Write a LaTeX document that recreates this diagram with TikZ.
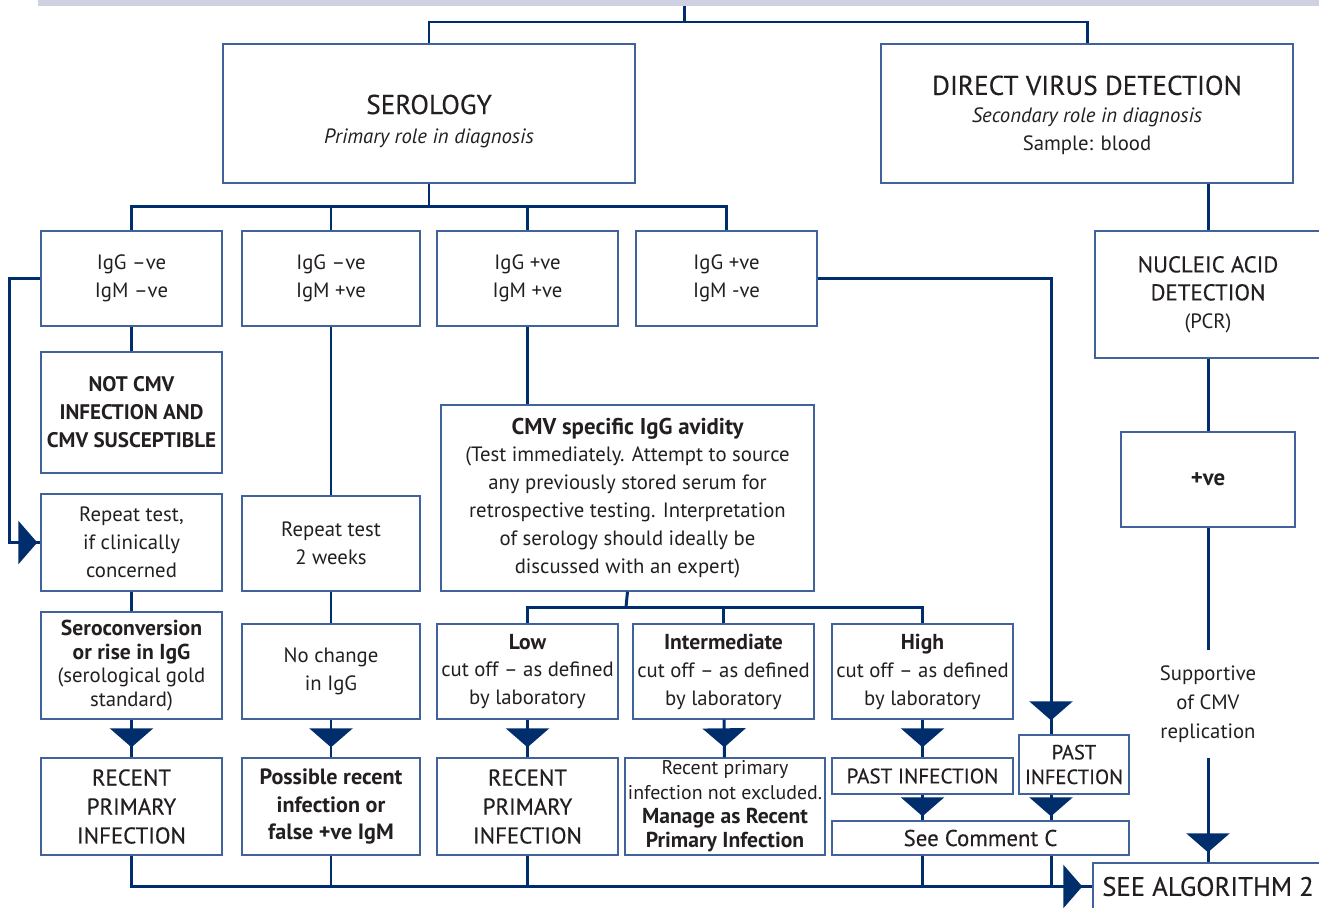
\documentclass[tikz,border=0pt]{standalone}
\usepackage{fontspec}
\setmainfont{PT Sans}
\newfontfamily\medfont[FakeBold=0.35]{PT Sans}
\usetikzlibrary{arrows.meta,decorations.markings,positioning}
\definecolor{navy}{RGB}{0,46,108}
\definecolor{boxblue}{RGB}{66,98,156}
\definecolor{ink}{RGB}{35,31,32}
\definecolor{barpale}{RGB}{205,209,226}
\newcommand\headfont{\medfont\fontsize{13}{16.5}\selectfont}
\newcommand\bigfont{\medfont\fontsize{15.5}{19}\selectfont}
\newcommand\boldhead{\bfseries\fontsize{12.3}{15}\selectfont}

\begin{document}
\begin{tikzpicture}[x=0.02cm,y=-0.02cm,
    box/.style={draw=boxblue,line width=0.8pt,text=ink,align=center,inner sep=0pt,
      font=\fontsize{11.8}{15.9}\selectfont},
    sz/.style 2 args={minimum width=#1*0.02cm,minimum height=#2*0.02cm},
    link/.style={navy,line width=1.7pt},
    tri/.style={postaction={decorate},decoration={markings,
      mark=at position -#1 with {\arrow{Triangle[width=0.86cm,length=0.38cm]}}}},
    tri/.default=0.2cm]
  \useasboundingbox (0,0) rectangle (1319,907);
  \fill[barpale] (38,0) rectangle (1319,6);

  % top level
  \node[box,sz={412}{139}] (ser) at (429,113.5) {\rule{0pt}{20pt}{\bigfont SEROLOGY}\\[1pt]\textit{Primary role in diagnosis}};
  \node[box,sz={412}{139}] (dvd) at (1087,113.5) {\rule{0pt}{13pt}{\bigfont DIRECT VIRUS DETECTION}\\\textit{Secondary role in diagnosis}\\Sample: blood};

  % serology results
  \node[box,sz={181}{95}] (b1) at (131.5,278.5) {IgG –ve\\IgM –ve};
  \node[box,sz={178}{95}] (b2) at (331,278.5) {IgG –ve\\IgM +ve};
  \node[box,sz={181}{95}] (b3) at (527.5,278.5) {IgG +ve\\IgM +ve};
  \node[box,sz={181}{95}] (b4) at (726.5,278.5) {IgG +ve\\IgM -ve};

  % column 1
  \node[box,sz={181}{121},font=\bfseries\fontsize{12}{16}\selectfont] (notcmv) at (131.5,412.5) {NOT CMV\\INFECTION AND\\CMV SUSCEPTIBLE};
  \node[box,sz={181}{97}] (rep1) at (131.5,542.5) {Repeat test,\\if clinically\\concerned};
  \node[box,sz={181}{107},font=\fontsize{11.8}{13.6}\selectfont] (sero) at (131.5,665.5)
    {{\boldhead Seroconversion}\\{\boldhead or rise in IgG}\\(serological gold\\standard)};
  \node[box,sz={181}{97},font=\headfont] (rec1) at (131.5,806.5) {RECENT\\PRIMARY\\INFECTION};

  % column 2
  \node[box,sz={178}{95}] (rep2) at (331,543.5) {Repeat test\\2 weeks};
  \node[box,sz={178}{95}] (nochg) at (331,671.5) {No change\\in IgG};
  \node[box,sz={178}{97},font=\bfseries\fontsize{12.6}{15.9}\selectfont] (poss) at (331,806.5) {Possible recent\\infection or\\false +ve IgM};

  % avidity
  \node[box,sz={373}{186}] (avid) at (627.5,498) {{\bfseries\fontsize{13}{16}\selectfont CMV specific IgG avidity}\\(Test immediately. Attempt to source\\any previously stored serum for\\retrospective testing. Interpretation\\of serology should ideally be\\discussed with an expert)};
  \node[box,sz={181}{95}] (low) at (527.5,671.5) {{\boldhead Low}\\cut off – as defined\\by laboratory};
  \node[box,sz={181}{95}] (mid) at (723.5,671.5) {{\boldhead Intermediate}\\cut off – as defined\\by laboratory};
  \node[box,sz={181}{95}] (high) at (922.5,671.5) {{\boldhead High}\\cut off – as defined\\by laboratory};
  \node[box,sz={181}{97},font=\headfont] (rec2) at (527.5,806.5) {RECENT\\PRIMARY\\INFECTION};
  \node[box,sz={200}{97},font=\fontsize{11.3}{13.8}\selectfont] (mid2) at (725,806.5)
    {Recent primary\\infection not excluded.\\{\boldhead Manage as Recent}\\{\boldhead Primary Infection}};
  \node[box,sz={181}{36},font=\medfont\fontsize{12}{14}\selectfont] (past1) at (922.5,776) {PAST INFECTION};
  \node[box,sz={110}{59},font=\medfont\fontsize{11.7}{14}\selectfont] (past2) at (1074,764.5) {PAST\\INFECTION};
  \node[box,sz={297}{34},font=\headfont] (seec) at (980.5,838) {See Comment C};

  % direct detection
  \node[box,sz={226}{127}] (nad) at (1208,294.5) {\headfont NUCLEIC ACID\\\headfont DETECTION\\(PCR)};
  \node[box,sz={174}{95},font=\bfseries\fontsize{13}{16}\selectfont] (pos) at (1208,479.5) {+ve};
  \node[align=center,text=ink,inner sep=0pt,font=\fontsize{11.8}{16.5}\selectfont,sz={120}{108}] (supp) at (1208,704) {Supportive\\of CMV\\replication};
  \node[box,sz={230}{47},font=\medfont\fontsize{15.2}{18}\selectfont] (alg) at (1208,886.5) {SEE ALGORITHM 2};

  \coordinate (top) at (684,6);
  \coordinate (split) at (684,22);
  \coordinate (sbus) at (429,206);
  \coordinate (abus) at (626,607);
  \coordinate (drop) at ([xshift=-0.46cm]past2.north);

  \draw[link] (top) -- (split);
  \draw[link] (split) -| (ser.north);
  \draw[link] (split) -| (dvd.north);
  \draw[link] (ser.south) -- (sbus);
  \foreach \b in {b1,b2,b3,b4}
    \draw[link] (sbus) -| (\b.north);

  \draw[link] (b1) -- (notcmv);
  \draw[link,tri=0.06cm] (b1.west) -- ++(-31,0) |- (rep1.west);
  \draw[link] (rep1) -- (sero);
  \draw[link,tri] (sero) -- (rec1);

  \draw[link] (b2) -- (rep2);
  \draw[link] (rep2) -- (nochg);
  \draw[link,tri] (nochg) -- (poss);

  \draw[link] (b3.south) -- (b3.south |- avid.north);
  \draw[link] (avid.south) -- (abus);
  \foreach \b in {low,mid,high}
    \draw[link] (abus) -| (\b.north);
  \draw[link,tri] (low) -- (rec2);
  \draw[link,tri] (mid) -- (mid2);
  \draw[link,tri] (high) -- (past1);
  \draw[link,tri=0.28cm] (b4.east) -| (drop);
  \draw[link,tri=0.08cm] (past1.south) -- (past1.south |- seec.north);
  \draw[link,tri=0.08cm] (drop |- past2.south) -- (drop |- seec.north);

  \draw[link] (dvd.south -| nad.north) -- (nad.north);
  \draw[link] (nad) -- (pos);
  \draw[link] (pos) -- (supp);
  \draw[link,tri] (supp) -- (alg);

  % collecting line
  \draw[link,tri] (rec1.south) |- (alg.west);
  \draw[link] (poss.south) -- (poss.south |- alg.west);
  \draw[link] (rec2.south) -- (rec2.south |- alg.west);
  \draw[link] (seec.south -| past1.south) -- (past1.south |- alg.west);
  \draw[link] (seec.south -| drop) -- (drop |- alg.west);
\end{tikzpicture}
\end{document}
